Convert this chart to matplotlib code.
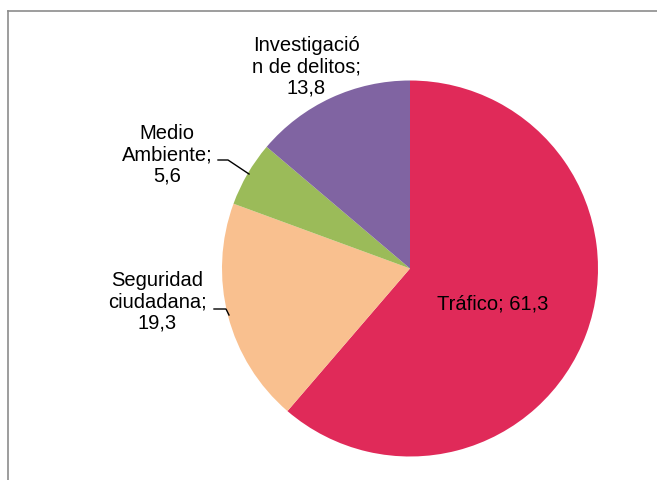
import matplotlib
matplotlib.use("Agg")
import matplotlib.pyplot as plt
from matplotlib.lines import Line2D

categories = ["Tráfico", "Seguridad ciudadana", "Medio Ambiente", "Investigación de delitos"]
values = [61.3, 19.3, 5.6, 13.8]
label_texts = ["Tráfico; 61,3", "Seguridad\nciudadana;\n19,3", "Medio\nAmbiente;\n5,6", "Investigació\nn de delitos;\n13,8"]
colors = ["#E02A59", "#F9C08F", "#9BBB59", "#8064A2"]

W, H = 657, 481
fig = plt.figure(figsize=(W / 100, H / 100), dpi=100)
ax = fig.add_axes([0, 0, 1, 1])

cx, cy, r = 410, H - 269.5, 188
ax.pie(values, colors=colors, startangle=90, counterclock=False,
       center=(cx, cy), radius=r, frame=True,
       wedgeprops=dict(linewidth=0))
ax.set_xlim(0, W)
ax.set_ylim(0, H)
ax.set_aspect("equal")
ax.axis("off")

# frame (top and left edges visible)
fig.add_artist(Line2D([7.5 / W, 7.5 / W], [0, 1 - 12 / H], color="#8c8c8c", lw=1.2))
fig.add_artist(Line2D([7.5 / W, 1], [1 - 12 / H, 1 - 12 / H], color="#8c8c8c", lw=1.2))

font = dict(family=["Liberation Sans", "DejaVu Sans"], fontsize=14.5, color="#000000",
            ha="center", va="center", linespacing=1.15)

pos = {
    0: (493, 304),
    1: (157, 302),
    2: (167, 155),
    3: (306, 67),
}
for i, t in enumerate(label_texts):
    x, y = pos[i]
    ax.text(x, H - y, t, **font)

# leader lines
ax.plot([218, 228, 249], [H - 161, H - 161, H - 175], color="black", lw=1)
ax.plot([214, 226, 229], [H - 310, H - 310, H - 316], color="black", lw=1)

fig.savefig("out.png", dpi=100)
